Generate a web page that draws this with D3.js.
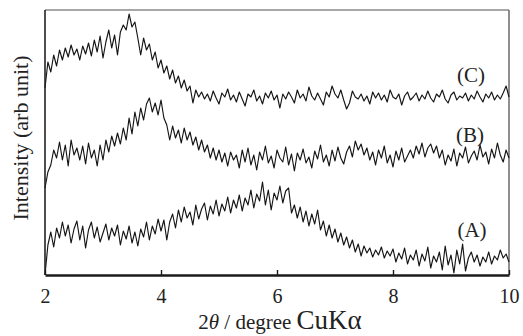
<!DOCTYPE html>
<html lang="en">
<head>
<meta charset="UTF-8"/>
<title>XRD patterns (A)-(C)</title>
<script src="https://d3js.org/d3.v7.min.js"></script>
<style>
  body { margin: 0; background: #fff; }
  text { font-family: "Liberation Serif", "Times New Roman", serif; fill: #222; }
</style>
</head>
<body>
<div id="chart"></div>
<script>
    // 2theta grid: 2.00 .. 10.00 deg, step 0.05
    const thetaStart = 2, thetaStep = 0.05;

    // intensities (arb. unit)
    const seriesA = [
        0, 30, 43, 28, 47, 37, 53, 39, 50, 32,
        46, 54, 35, 49, 27, 45, 53, 37, 48, 33,
        42, 51, 35, 47, 39, 50, 30, 44, 36, 49,
        32, 43, 29, 46, 38, 53, 35, 49, 41, 56,
        44, 55, 35, 53, 61, 47, 65, 53, 68, 57,
        63, 50, 70, 56, 66, 72, 55, 69, 61, 75,
        59, 71, 64, 78, 62, 75, 67, 80, 64, 77,
        70, 85, 67, 81, 74, 93, 70, 85, 65, 82,
        75, 89, 72, 84, 87, 62, 70, 57, 68, 53,
        64, 49, 61, 51, 65, 45, 54, 39, 50, 37,
        46, 33, 42, 30, 38, 27, 35, 23, 31, 19,
        29, 22, 27, 18, 25, 20, 28, 17, 24, 19, 26,
        13, 22, 16, 27, 11, 20, 15, 25, 9, 21,
        14, 28, 7, 19, 13, 23, 5, 29, 10, 20,
        2, 25, 11, 31, 4, 17, 23, 13, 20, 9,
        18, 13, 23, 11, 19, 15, 25, 17, 21, 13
    ];
    const seriesB = [
        87, 103, 110, 125, 117, 133, 115, 130, 109, 135,
        120, 127, 115, 129, 111, 132, 117, 125, 109, 130,
        115, 135, 123, 139, 129, 142, 131, 147, 135, 157,
        141, 163, 149, 167, 155, 171, 177, 163, 172, 160,
        175, 157, 150, 135, 149, 137, 145, 132, 147, 135,
        143, 130, 138, 125, 135, 123, 130, 117, 127, 115,
        125, 113, 122, 109, 123, 115, 120, 107, 125,
        113, 127, 110, 120, 105, 123, 115, 129, 112, 119,
        107, 125, 117, 113, 128, 110, 121, 104, 122, 115,
        126, 112, 118, 107, 124, 116, 130, 113, 120, 109,
        125, 114, 128, 117, 111, 123, 129, 118, 134, 125,
        131, 120, 127, 115, 123, 110, 125, 117, 129, 112,
        120, 108, 124, 115, 127, 113, 119, 125, 117, 129,
        121, 132, 118, 127, 131, 122, 129, 117, 125, 110,
        120, 114, 126, 109, 122, 117, 128, 112, 119, 124,
        115, 130, 118, 123, 111, 126, 117, 132, 120, 113,
        125, 117
    ];
    const seriesC = [
        187, 213, 203, 220, 209, 225, 215, 227, 218, 230,
        220, 226, 215, 229, 221, 232, 219, 235, 223, 239,
        217, 233, 245, 227, 240, 220, 243, 250, 245, 261,
        248, 253, 237, 220, 237, 225, 231, 215, 223, 207,
        215, 202, 209, 196, 205, 192, 199, 187, 195, 184,
        189, 172, 185, 178, 183,
        176, 181, 174, 184, 177, 171, 182, 178, 186, 175,
        180, 173, 183, 176, 169, 181, 178, 185, 174, 179,
        171, 182, 177, 184, 175, 180, 167, 181, 176, 183,
        178, 172, 185, 177, 181, 174, 188, 179, 175, 182,
        176, 170, 183, 178, 189, 181, 177, 185, 175, 166,
        172, 184, 178, 176, 181, 174, 179, 171, 183, 177,
        182, 175, 180, 173, 185, 178, 176, 181, 170, 179,
        183, 175, 178, 182, 174, 180, 176, 184, 177, 173,
        181, 178, 185, 176, 172, 180, 183, 175, 179, 177,
        182, 174, 180, 176, 184, 178, 173, 181, 177, 183,
        175, 180, 176, 182, 189, 178
    ];
    const seriesNames = ["(A)", "(B)", "(C)"];
    const xTicks = [2, 4, 6, 8, 10];

    const w = 523, h = 336;
    const margin = { top: 10, right: 14, bottom: 61, left: 45 };
    const innerW = w - margin.left - margin.right;
    const innerH = h - margin.top - margin.bottom;

    const svg = d3.select("#chart").append("svg")
        .attr("width", w)
        .attr("height", h);

    const chart = svg.append("g")
        .attr("transform", `translate(${margin.left},${margin.top})`);

    const x = d3.scaleLinear().domain([2, 10]).range([0, innerW]);
    const y = d3.scaleLinear().domain([0, 265]).range([innerH, 0]);

    // frame: grey top and right edges
    chart.append("line")
        .attr("x1", 0).attr("x2", innerW).attr("y1", 0).attr("y2", 0)
        .attr("stroke", "#8a8a8a").attr("stroke-width", 1.5);
    chart.append("line")
        .attr("x1", innerW).attr("x2", innerW).attr("y1", 0).attr("y2", innerH)
        .attr("stroke", "#6a6a6a").attr("stroke-width", 1.5);

    // traces
    const line = d3.line()
        .x((d, i) => x(thetaStart + i * thetaStep))
        .y(d => y(d));

    [seriesA, seriesB, seriesC].forEach(s => {
        chart.append("path")
            .datum(s)
            .attr("fill", "none")
            .attr("stroke", "#151515")
            .attr("stroke-width", 1.15)
            .attr("stroke-linejoin", "round")
            .attr("d", line);
    });

    // left axis line
    chart.append("line")
        .attr("x1", 0).attr("x2", 0).attr("y1", 0).attr("y2", innerH)
        .attr("stroke", "#222").attr("stroke-width", 1.6);

    // bottom axis, ticks pointing inwards
    const xAxis = chart.append("g")
        .attr("transform", `translate(0,${innerH})`)
        .call(d3.axisBottom(x).tickValues(xTicks).tickSizeInner(-5).tickSizeOuter(0).tickPadding(14));
    xAxis.select(".domain").attr("stroke", "#1a1a1a").attr("stroke-width", 2.6);
    xAxis.selectAll(".tick line").attr("stroke", "#1a1a1a").attr("stroke-width", 1.4);
    xAxis.selectAll(".tick text")
        .attr("font-family", "Liberation Serif, serif")
        .attr("font-size", 20)
        .attr("fill", "#222");

    // series labels
    const labelPos = [[472, 237], [470, 142], [471, 82]];
    svg.selectAll(".series-label")
        .data(seriesNames)
        .enter()
        .append("text")
        .attr("class", "series-label")
        .attr("x", (d, i) => labelPos[i][0])
        .attr("y", (d, i) => labelPos[i][1])
        .attr("text-anchor", "middle")
        .attr("font-size", 21)
        .text(d => d);

    // axis titles
    const xTitle = svg.append("text")
        .attr("x", 280)
        .attr("y", 329)
        .attr("text-anchor", "middle")
        .attr("font-size", 21);
    xTitle.append("tspan").text("2");
    xTitle.append("tspan").attr("font-style", "italic").text("\u03b8");
    xTitle.append("tspan").text(" / degree ");
    xTitle.append("tspan").attr("font-size", 27).text("CuK\u03b1");

    svg.append("text")
        .attr("transform", "rotate(-90)")
        .attr("x", -138)
        .attr("y", 28)
        .attr("text-anchor", "middle")
        .attr("font-size", 22)
        .text("Intensity (arb unit)");
</script>
</body>
</html>
